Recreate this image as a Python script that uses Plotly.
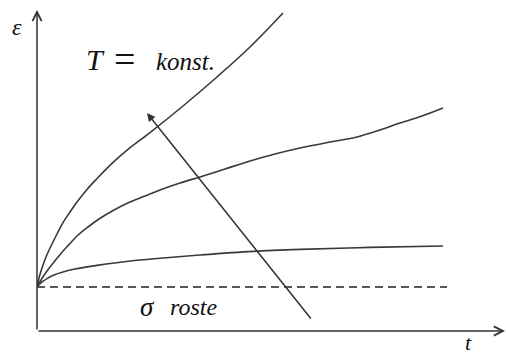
import plotly.graph_objects as go

# creep curves (t and eps in arbitrary units, origin at the axes corner)
t_low = [0, 0.05, 0.125, 0.25, 0.425, 0.65, 0.95, 1.5, 2.325, 3.075, 4.075, 5.4, 6.575, 8.325, 10.15]
eps_low = [1.1, 1.16, 1.225, 1.31, 1.4, 1.475, 1.55, 1.64, 1.75, 1.82, 1.9, 1.99, 2.04, 2.09, 2.125]

t_mid = [0, 0.1, 0.25, 0.425, 0.6, 0.8, 1.0, 1.275, 1.55, 1.925, 2.325, 2.7, 3.075, 3.575, 4.075,
         4.7, 5.325, 5.95, 6.575, 7.325, 8.0, 8.575, 9.075, 9.625, 10.15]
eps_mid = [1.1, 1.275, 1.5, 1.725, 1.94, 2.16, 2.375, 2.6, 2.8, 3.025, 3.225, 3.375, 3.525, 3.7, 3.85,
           4.05, 4.25, 4.425, 4.575, 4.725, 4.85, 5.025, 5.2, 5.375, 5.575]

t_high = [0, 0.05, 0.125, 0.225, 0.35, 0.5, 0.65, 0.825, 1.0, 1.25, 1.5, 1.875, 2.275, 2.825,
          3.65, 4.5, 5.325, 6.15]
eps_high = [1.1, 1.325, 1.575, 1.85, 2.125, 2.425, 2.71, 2.975, 3.225, 3.54, 3.81, 4.19, 4.54, 4.96,
            5.625, 6.35, 7.1, 7.95]

eps_0 = 1.1          # initial (elastic) strain, dashed line
t_dash_end = 10.25

t_max = 11.7
eps_max = 8.025

ink = '#333333'

fig = go.Figure()

for t, eps in [(t_low, eps_low), (t_mid, eps_mid), (t_high, eps_high)]:
    fig.add_trace(go.Scatter(x=t, y=eps, mode='lines',
                             line=dict(color='#3a3a3a', width=1.6, shape='spline', smoothing=1.0),
                             hoverinfo='skip', showlegend=False))

fig.add_trace(go.Scatter(x=[0, t_dash_end], y=[eps_0, eps_0], mode='lines',
                         line=dict(color='#222222', width=1.3, dash='8px,5px'),
                         hoverinfo='skip', showlegend=False))


def arrow(x0, y0, x1, y1, head, size, width):
    fig.add_annotation(x=x1, y=y1, ax=x0, ay=y0, xref='x', yref='y', axref='x', ayref='y',
                       text='', showarrow=True, arrowhead=head, arrowsize=size,
                       arrowwidth=width, arrowcolor=ink, standoff=0)


# axes with arrow tips
arrow(0, 0, t_max, 0, 5, 1.2, 1.5)
arrow(0, 0, 0, eps_max, 5, 1.2, 1.5)
# "stress grows" arrow
arrow(6.875, 0.275, 2.75, 5.45, 2, 1.1, 1.5)


def label(x, y, text, size, anchor='left', ref='x', vanchor='middle'):
    fig.add_annotation(x=x, y=y, xref=ref, yref='y' if ref == 'x' else 'paper', text=text,
                       showarrow=False, xanchor=anchor, yanchor=vanchor, borderpad=0,
                       font=dict(family='Liberation Serif', size=size, color='#111111'))


label(-0.043, 0.947, '<i>ε</i>', 24, 'center', 'paper')
label(0.921, -0.077, '<i>t</i>', 22, 'center', 'paper', 'bottom')
label(1.2, 6.8, '<i>T</i>', 30)
label(1.9, 6.8, '=', 38)
label(2.95, 6.75, '<i>konst.</i>', 25)
label(2.55, 0.6, '<i>σ</i>', 27)
label(3.3, 0.6, '<i>roste</i>', 24)

fig.update_layout(
    width=506, height=356,
    margin=dict(l=37, r=1, t=10, b=25),
    paper_bgcolor='white', plot_bgcolor='white',
    xaxis=dict(range=[0, t_max], visible=False, fixedrange=True),
    yaxis=dict(range=[0, eps_max], visible=False, fixedrange=True),
    showlegend=False,
)

fig.write_html("out.html", config={'displayModeBar': False},
               post_script="document.body.style.margin='0';")
